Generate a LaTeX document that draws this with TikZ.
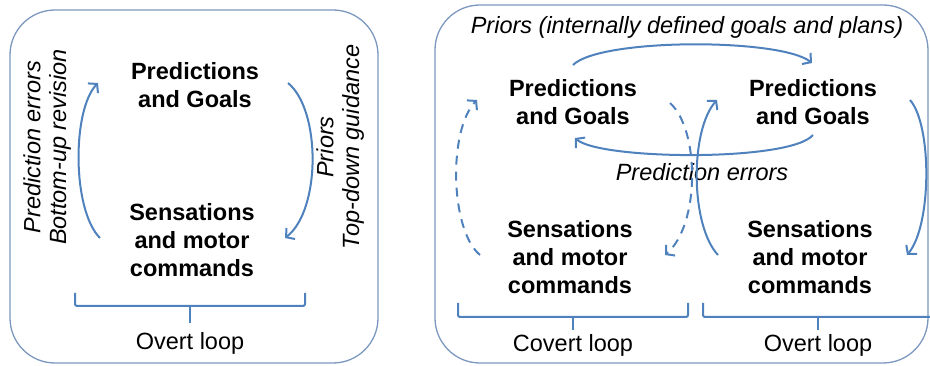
\documentclass[tikz,border=0pt]{standalone}
\usepackage{fontspec}
\setmainfont{Liberation Sans}
\usetikzlibrary{arrows.meta}
\definecolor{loopblue}{RGB}{79,129,189}
\definecolor{framecol}{RGB}{125,152,190}
\begin{document}
\begin{tikzpicture}[x=1pt,y=-1pt,
  big/.style={font=\bfseries\fontsize{23.5}{28}\selectfont, align=center, inner sep=0pt},
  lab/.style={font=\itshape\fontsize{23.5}{28}\selectfont, inner sep=0pt},
  plain/.style={font=\fontsize{23.5}{28}\selectfont, inner sep=0pt},
  flow/.style={draw=loopblue, line width=2pt, -{Straight Barb[length=6pt,width=14pt]}},
  flowdash/.style={flow, dash pattern=on 9pt off 7pt},
  frame/.style={draw=framecol, line width=1.3pt, rounded corners=45pt},
  bracket/.style={draw=loopblue, line width=2pt, rounded corners=2pt}]
\useasboundingbox (0,0) rectangle (930,366);

% ---------- single overt loop ----------
\draw[frame] (10,10) rectangle (378,363);
\node[big] (pgA) at (195,85) {Predictions\\and Goals};
\node[big] (smA) at (192,240) {Sensations\\and motor\\commands};
\node[lab, rotate=90] (peA) at (32,147) {Prediction errors};
\node[lab, rotate=90] (buA) at (60,147) {Bottom-up revision};
\node[lab, rotate=90] (prA) at (325,147) {Priors};
\node[lab, rotate=90] (tdA) at (353,147) {Top-down guidance};

\coordinate (upA0) at (100,238);  \coordinate (upA1) at (98,83);
\coordinate (dnA0) at (288,83);   \coordinate (dnA1) at (285,238);
\draw[flow] (upA0) .. controls (72,210) and (72,110) .. (upA1);
\draw[flow] (dnA0) .. controls (321,110) and (321,210) .. (dnA1);

\coordinate (brA) at (190,306);
\draw[bracket] (75,293) -- (75,306) -- (305,306) -- (305,293);
\draw[bracket] (brA) -- (190,323);
\node[plain] (olA) at (190,343) {Overt loop};

% ---------- covert and overt loops ----------
\draw[frame] (435,5) rectangle (928,363);
\node[lab] (prB) at (687,27) {Priors (internally defined goals and plans)};
\node[big] (pgB) at (573,102) {Predictions\\and Goals};
\node[big] (pgC) at (813,102) {Predictions\\and Goals};
\node[big] (smB) at (570,257) {Sensations\\and motor\\commands};
\node[big] (smC) at (810,257) {Sensations\\and motor\\commands};
\node[lab] (peB) at (702,172) {Prediction errors};

\coordinate (tp0) at (573,65);   \coordinate (tp1) at (812,63);
\coordinate (bt0) at (813,135);  \coordinate (bt1) at (575,138);
\draw[flow] (tp0) .. controls (600,38) and (780,38) .. (tp1);
\draw[flow] (bt0) .. controls (790,162) and (600,160) .. (bt1);

\coordinate (cu0) at (480,255);  \coordinate (cu1) at (477,100);
\coordinate (cd0) at (670,103);  \coordinate (cd1) at (665,255);
\draw[flowdash] (cu0) .. controls (450,230) and (448,130) .. (cu1);
\draw[flowdash] (cd0) .. controls (700,130) and (700,225) .. (cd1);

\coordinate (ou0) at (718,255);  \coordinate (ou1) at (717,100);
\coordinate (od0) at (910,100);  \coordinate (od1) at (907,255);
\draw[flow] (ou0) .. controls (690,225) and (690,130) .. (ou1);
\draw[flow] (od0) .. controls (932,125) and (932,225) .. (od1);

\draw[bracket] (458,303) -- (458,317) -- (688,317) -- (688,303);
\draw[bracket] (573,317) -- (573,330);
\node[plain] (clB) at (573,345) {Covert loop};
\draw[bracket] (703,303) -- (703,317) -- (940,317);
\draw[bracket] (818,317) -- (818,330);
\node[plain] (olC) at (818,345) {Overt loop};
\end{tikzpicture}
\end{document}
